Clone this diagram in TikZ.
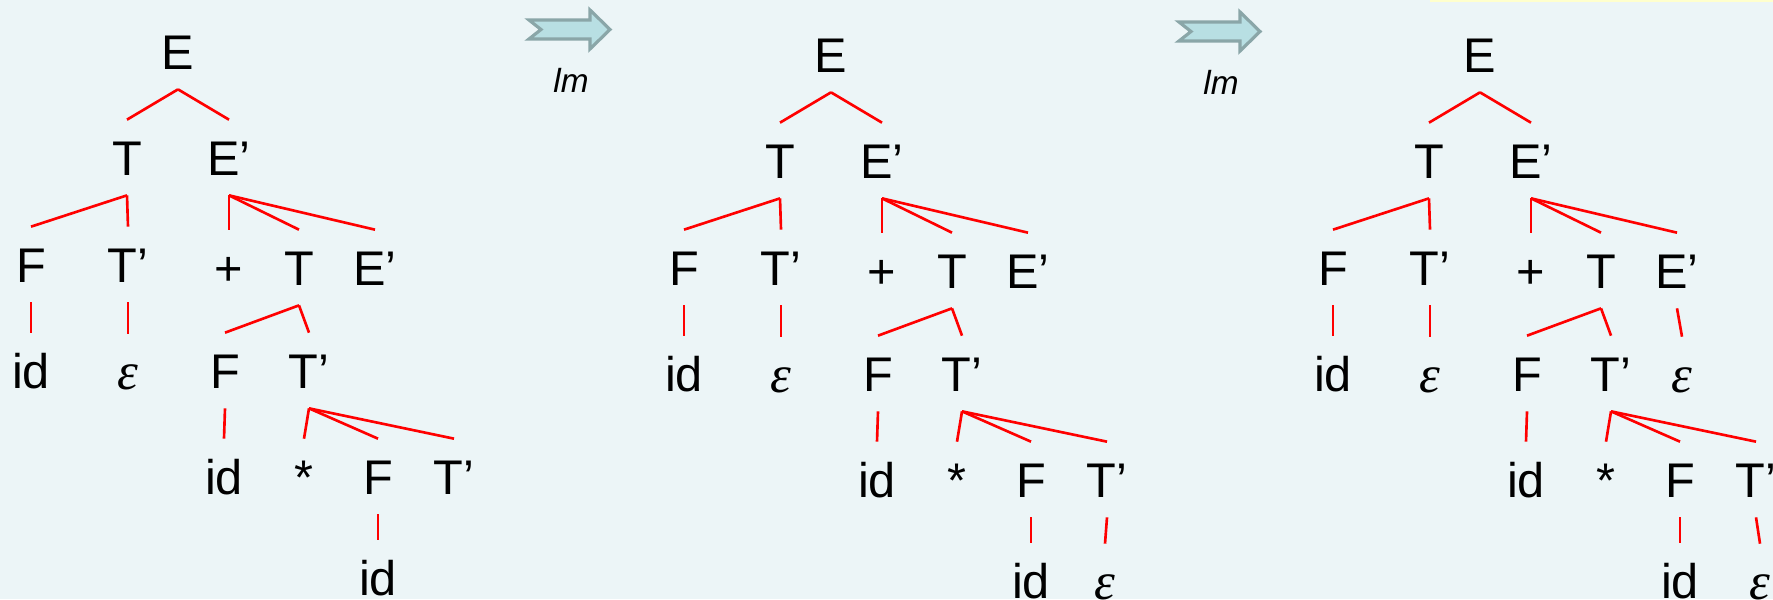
\documentclass[tikz,border=0pt]{standalone}
\usepackage{fontspec}
\setmainfont{Liberation Sans}
\newfontfamily\greekit{Liberation Serif}
\definecolor{pgback}{RGB}{236,245,247}
\definecolor{pgred}{RGB}{255,0,0}
\definecolor{pgarrowfill}{RGB}{184,223,227}
\definecolor{pgarrowline}{RGB}{138,166,168}
\definecolor{pgstrip}{RGB}{255,255,205}
\tikzset{
  gsym/.style={anchor=base, inner xsep=0pt, inner ysep=0.4cm, text height=0.7cm, text depth=0pt,
               font=\fontsize{27.7}{33}\selectfont},
  geps/.style={gsym, font=\fontsize{30}{33}\selectfont\greekit\itshape},
  brch/.style={pgred, line width=1.5pt},
  lmarr/.style={fill=pgarrowfill, draw=pgarrowline, line width=1.8pt, line join=miter},
  lmtxt/.style={anchor=base, inner sep=0pt, font=\fontsize{19}{22}\selectfont\itshape},
}
\begin{document}
\begin{tikzpicture}[x=0.02cm,y=-0.02cm]
        \useasboundingbox (0,0) rectangle (1773,599);
        \fill[pgback] (0,0) rectangle (1773,599);
        \fill[pgstrip] (1430,0) rectangle (1773,1.5);
        % lm arrows
        \foreach \k/\dx/\dy in {1/0/0,2/650/2}{
          \begin{scope}[shift={(\dx,\dy)}]
            \draw[lmarr] (529,20)--(541,29.5)--(529,39)--(590,39)--(590,49)--(610,29.5)--(590,10)--(590,20)--cycle;
            \node[lmtxt](lm-\k) at (571,92){lm};
          \end{scope}
        }
        % the common part of the three trees
        \foreach \k/\dx/\dy in {1/0/0,2/653/3,3/1302/3}{
          \begin{scope}[shift={(\dx,\dy)}]
            \node[gsym](E-\k) at (178,69){E};
            \node[gsym](T-\k) at (127,175){T};
            \node[gsym](Ep-\k) at (229,175){E’};
            \node[gsym](F-\k) at (31,282){F};
            \node[gsym](Tp-\k) at (128,282){T’};
            \node[gsym](plus-\k) at (229,285){+};
            \node[gsym](T2-\k) at (299,285){T};
            \node[gsym](Ep2-\k) at (375,285){E’};
            \node[gsym](id-\k) at (31,388){id};
            \node[geps](eps-\k) at (128,389){ε};
            \node[gsym](F2-\k) at (225,388){F};
            \node[gsym](Tp2-\k) at (309,388){T’};
            \node[gsym](id2-\k) at (224,494){id};
            \node[gsym](star-\k) at (304,494){*};
            \node[gsym](F3-\k) at (378,494){F};
            \node[gsym](Tp3-\k) at (454,494){T’};
            \node[gsym](id3-\k) at (378,595){id};
            \draw[brch](E-\k.south)--(T-\k.north);\draw[brch](E-\k.south)--(Ep-\k.north);
            \draw[brch](T-\k.south)--(F-\k.north);\draw[brch](T-\k.south)--(Tp-\k.north);
            \draw[brch](Ep-\k.south)--(plus-\k.north);\draw[brch](Ep-\k.south)--(T2-\k.north);\draw[brch](Ep-\k.south)--(Ep2-\k.north);
            \draw[brch](F-\k.south)--(id-\k.north);\draw[brch](Tp-\k.south)--(eps-\k.north);
            \draw[brch](T2-\k.south)--(F2-\k.north);\draw[brch](T2-\k.south)--(Tp2-\k.north);
            \draw[brch](F2-\k.south)--(id2-\k.north);
            \draw[brch](Tp2-\k.south)--(star-\k.north);\draw[brch](Tp2-\k.south)--(F3-\k.north);\draw[brch](Tp2-\k.south)--(Tp3-\k.north);
            \draw[brch](F3-\k.south)--(id3-\k.north);
          \end{scope}
        }
        % second tree: T' -> eps
        \begin{scope}[shift={(653,3)}]
          \node[geps](eps2-2) at (452,596){ε};
          \draw[brch](Tp3-2.south)--(eps2-2.north);
        \end{scope}
        % third tree: E' -> eps, T' -> eps
        \begin{scope}[shift={(1302,3)}]
          \node[geps](eps1-3) at (380,389){ε};
          \node[geps](eps2-3) at (458,596){ε};
          \draw[brch](Ep2-3.south)--(eps1-3.north);
          \draw[brch](Tp3-3.south)--(eps2-3.north);
        \end{scope}
    \end{tikzpicture}
\end{document}
